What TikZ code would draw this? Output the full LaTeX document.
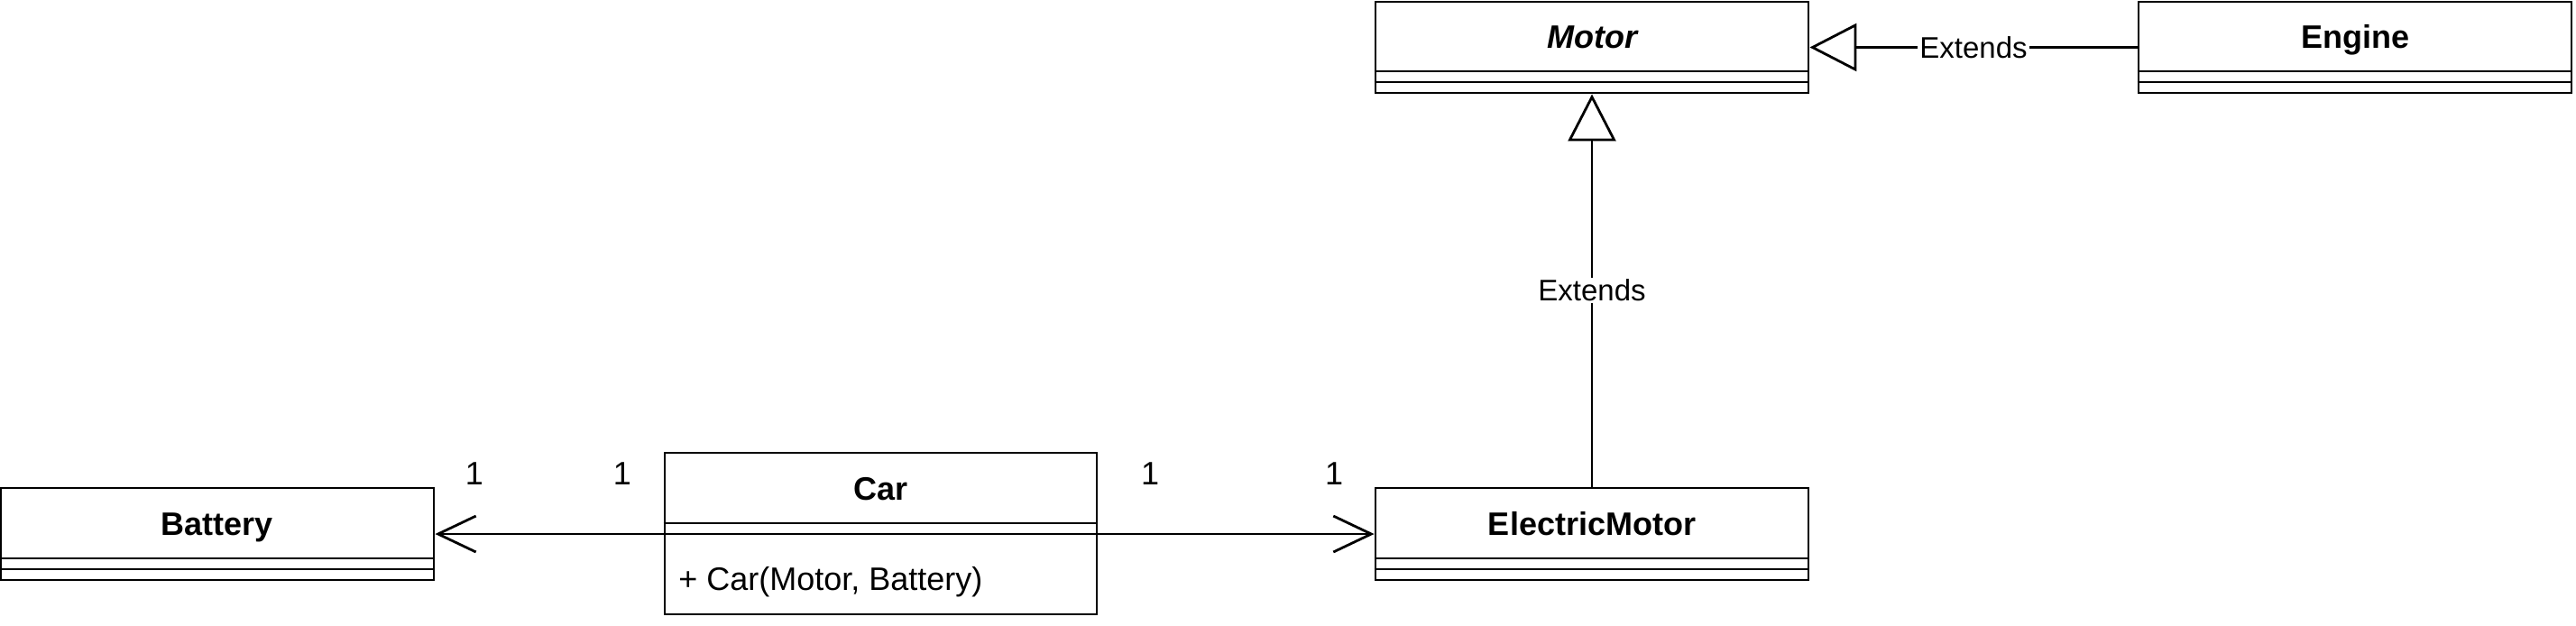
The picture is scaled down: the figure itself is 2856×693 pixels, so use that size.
\documentclass[tikz,border=0pt]{standalone}
\usepackage{fontspec}
\setmainfont{Liberation Sans}
\usetikzlibrary{arrows.meta}
\begin{document}
\begin{tikzpicture}[x=0.5pt,y=-0.5pt,
  box/.style={draw, line width=1.45pt, fill=white, inner sep=0pt, minimum width=240pt},
  sepline/.style={line width=1.45pt},
  ctext/.style={font=\fontsize{18pt}{21pt}\selectfont, inner sep=0pt, anchor=base},
  mult/.style={font=\fontsize{18pt}{21pt}\selectfont, inner sep=0pt, anchor=base},
  lbl/.style={font=\fontsize{16.5pt}{19pt}\selectfont, fill=white, inner sep=1pt},
  assoc/.style={line width=1.4pt, -{Straight Barb[length=21pt,width=20pt]}},
  inh/.style={line width=1.4pt, -{Triangle[open,length=26pt,width=26.5pt,fill=white]}}
]
\useasboundingbox (0,0) rectangle (2856,693);

% Motor
\node[box, minimum height=50.5pt] (motor) at (1765,52.5) {};
\node[ctext] (motorT) at (1765,53.5) {\bfseries\itshape Motor};
\draw[sepline] (motor.west |- 0,79) -- (motor.east |- 0,79);
\draw[sepline] (motor.west |- 0,91) -- (motor.east |- 0,91);

% Engine
\node[box, minimum height=50.5pt] (engine) at (2611,52.5) {};
\node[ctext] (engineT) at (2611,53.5) {\bfseries Engine};
\draw[sepline] (engine.west |- 0,79) -- (engine.east |- 0,79);
\draw[sepline] (engine.west |- 0,91) -- (engine.east |- 0,91);

% Battery
\node[box, minimum height=51pt] (battery) at (241,592) {};
\node[ctext] (batteryT) at (241,593) {\bfseries Battery};
\draw[sepline] (battery.west |- 0,619) -- (battery.east |- 0,619);
\draw[sepline] (battery.west |- 0,631) -- (battery.east |- 0,631);

% ElectricMotor
\node[box, minimum height=51pt] (em) at (1765,592) {};
\node[ctext] (emT) at (1765,593) {\bfseries ElectricMotor};
\draw[sepline] (em.west |- 0,619) -- (em.east |- 0,619);
\draw[sepline] (em.west |- 0,631) -- (em.east |- 0,631);

% Car
\node[box, minimum width=239.5pt, minimum height=89.5pt] (car) at (976.5,591.5) {};
\node[ctext] (carT) at (976.5,554) {\bfseries Car};
\draw[sepline] (car.west |- 0,580) -- (car.east |- 0,580);
\draw[sepline] (car.west |- 0,592) -- (car.east |- 0,592);
\node[ctext, anchor=base west] (carM) at (752,654) {+ Car(Motor, Battery)};

% associations
\draw[assoc] (car.west |- battery.east) -- (battery.east);
\draw[assoc] (car.east |- em.west) -- (em.west);
\node[mult] (m1) at (526,537) {1};
\node[mult] (m2) at (690,537) {1};
\node[mult] (m3) at (1275,537) {1};
\node[mult] (m4) at (1479,537) {1};

% generalizations
\draw[inh] (em.north) -- node[lbl, pos=0.5] (ext1) {Extends} (motor.south);
\draw[inh] (engine.west) -- node[lbl, pos=0.5] (ext2) {Extends} (motor.east);
\end{tikzpicture}
\end{document}
